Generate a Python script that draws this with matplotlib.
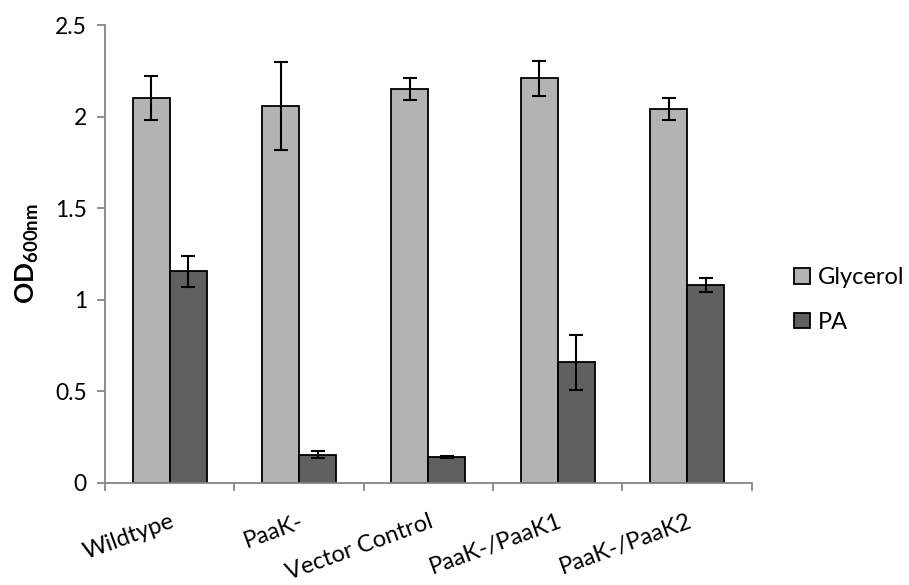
import numpy as np
import matplotlib.pyplot as plt

plt.rcParams['font.family'] = ['Lato', 'DejaVu Sans']
plt.rcParams['mathtext.fontset'] = 'custom'
plt.rcParams['mathtext.rm'] = 'Lato'
plt.rcParams['mathtext.bf'] = 'Lato:bold'

strains = ['Wildtype', 'PaaK-', 'Vector Control', 'PaaK-/PaaK1', 'PaaK-/PaaK2']
glycerol = [2.10, 2.06, 2.15, 2.21, 2.04]
glycerol_err = [0.12, 0.24, 0.06, 0.095, 0.06]
pa = [1.155, 0.155, 0.14, 0.66, 1.08]
pa_err = [0.086, 0.02, 0.005, 0.15, 0.037]

AXIS_GREY = '#868686'

fig = plt.figure(figsize=(9.09, 5.85), dpi=100)
ax = fig.add_axes([0.1155, 0.1744, 0.7115, 0.7826])

x = np.arange(len(strains))
w = 0.286
err_kw = dict(ecolor='black', elinewidth=1.5, capsize=5, capthick=1.5)
ax.bar(x - w / 2, glycerol, w, yerr=glycerol_err, color='#b3b3b3',
       edgecolor='black', linewidth=1.3, label='Glycerol', error_kw=err_kw)
ax.bar(x + w / 2, pa, w, yerr=pa_err, color='#606060',
       edgecolor='black', linewidth=1.3, label='PA', error_kw=err_kw)

ax.set_xlim(-0.5, len(strains) - 0.5)
ax.set_ylim(0, 2.5)
ax.set_yticks([0, 0.5, 1, 1.5, 2, 2.5])
ax.set_yticklabels(['0', '0.5', '1', '1.5', '2', '2.5'])

# boundary ticks between groups, labels at group centres
ax.set_xticks(np.arange(len(strains) + 1) - 0.5)
ax.set_xticklabels([])
ax.set_xticks(x, minor=True)
ax.set_xticklabels(strains, minor=True, rotation=20, ha='right',
                   rotation_mode='anchor', fontsize=17)
ax.tick_params(axis='x', which='minor', length=0, pad=20)
ax.tick_params(axis='x', which='major', length=6, width=1.3, color=AXIS_GREY)
ax.tick_params(axis='y', length=6, width=1.3, color=AXIS_GREY,
               labelsize=16.5, pad=7)

for s in ['top', 'right']:
    ax.spines[s].set_visible(False)
for s in ['left', 'bottom']:
    ax.spines[s].set_color(AXIS_GREY)
    ax.spines[s].set_linewidth(1.3)

ax.set_ylabel(r'$\mathbf{OD_{600nm}}$', fontsize=19, labelpad=10)

ax.legend(loc='center left', bbox_to_anchor=(1.066, 0.40), frameon=False,
          fontsize=17, handlelength=0.64, handleheight=0.64,
          handletextpad=0.34, labelspacing=1.0, borderpad=0,
          borderaxespad=0)

fig.savefig('out.png', dpi=100)
